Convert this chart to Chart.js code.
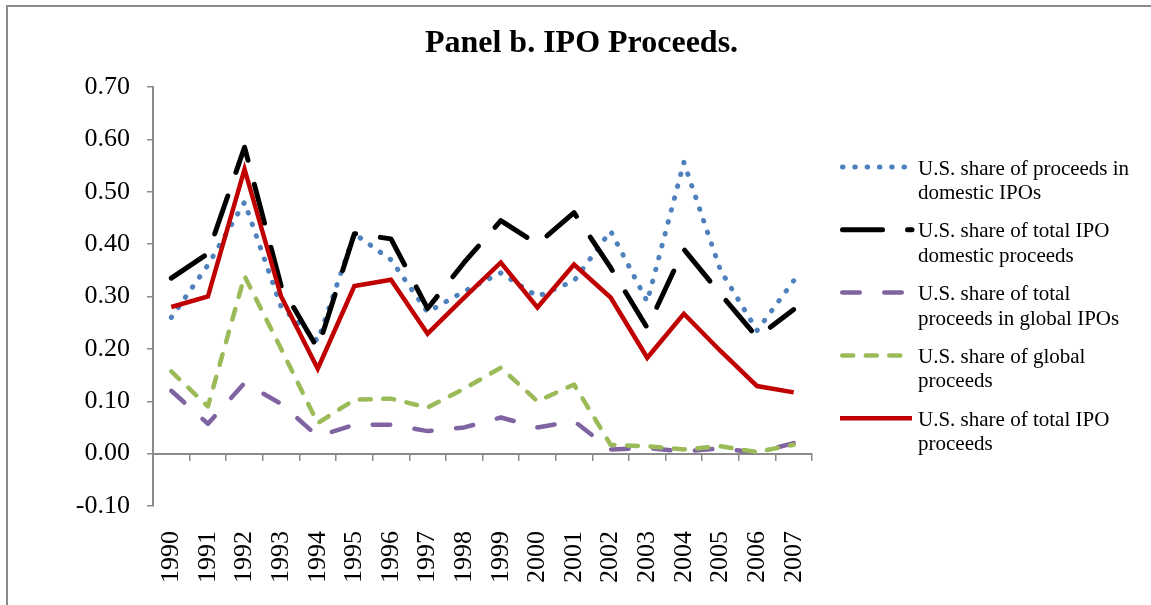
<!DOCTYPE html>
<html><head><meta charset="utf-8">
<script src="https://cdn.jsdelivr.net/npm/chart.js@4"></script>
<style>
html,body{margin:0;padding:0;background:#fff;}
#wrap{position:relative;width:1151px;height:605px;}
#frame{position:absolute;left:6px;top:5px;right:0;bottom:0;border-top:2px solid #8a8a8a;border-left:2px solid #8a8a8a;pointer-events:none;}
</style></head><body>
<div id="wrap"><canvas id="c" width="1151" height="605"></canvas><div id="frame"></div></div>
<script>
const years = ['1990','1991','1992','1993','1994','1995','1996','1997','1998','1999','2000','2001','2002','2003','2004','2005','2006','2007'];
const shareDomesticIPOs = [0.26,0.36,0.48,0.28,0.215,0.42,0.37,0.27,0.31,0.345,0.30,0.33,0.425,0.29,0.556,0.35,0.235,0.33];
const shareTotalDomestic = [0.335,0.382,0.585,0.32,0.20,0.42,0.41,0.277,0.365,0.445,0.40,0.46,0.355,0.24,0.39,0.305,0.222,0.275];
const shareGlobalIPOs = [0.12,0.057,0.135,0.095,0.033,0.055,0.055,0.043,0.05,0.069,0.05,0.062,0.008,0.011,0.004,0.01,0.002,0.02];
const shareGlobalProceeds = [0.157,0.09,0.339,0.20,0.058,0.103,0.105,0.088,0.124,0.164,0.10,0.132,0.017,0.014,0.008,0.014,0.003,0.017];
const shareTotalProceeds = [0.28,0.30,0.543,0.30,0.162,0.32,0.332,0.229,0.298,0.365,0.279,0.361,0.298,0.183,0.267,0.196,0.129,0.117];
const seriesNames = ['U.S. share of proceeds in domestic IPOs','U.S. share of total IPO domestic proceeds','U.S. share of total proceeds in global IPOs','U.S. share of global proceeds','U.S. share of total IPO proceeds'];
const legendLines = [
  ['U.S. share of proceeds in','domestic IPOs'],
  ['U.S. share of total IPO','domestic proceeds'],
  ['U.S. share of total','proceeds in global IPOs'],
  ['U.S. share of global','proceeds'],
  ['U.S. share of total IPO','proceeds']
];
const yTicks = [-0.1,0,0.1,0.2,0.3,0.4,0.5,0.6,0.7];
const titleText = 'Panel b. IPO Proceeds.';

const SERIF = "'Liberation Serif','Times New Roman',serif";
const AXIS = '#8a8a8a';

const sideLegend = {
  id: 'sideLegend',
  afterDraw(chart) {
    const ctx = chart.ctx;
    const x0 = 840, x1 = 912, tx = 918, y0 = 167, step = 62.8;
    chart.data.datasets.forEach((ds, i) => {
      const y = y0 + i * step;
      ctx.save();
      ctx.strokeStyle = ds.borderColor;
      ctx.lineWidth = ds.borderWidth;
      ctx.lineCap = ds.borderCapStyle || 'butt';
      ctx.setLineDash(ds.borderDash || []);
      ctx.beginPath();
      ctx.moveTo(x0 + (ds.borderCapStyle === 'round' ? ds.borderWidth/2 : 0), y);
      ctx.lineTo(x1, y);
      ctx.stroke();
      ctx.restore();
      ctx.save();
      ctx.fillStyle = '#000';
      ctx.font = '21px ' + SERIF;
      ctx.textBaseline = 'middle';
      ctx.textAlign = 'left';
      legendLines[i].forEach((t, j) => ctx.fillText(t, tx, y + 2 + j * 24.5));
      ctx.restore();
    });
  }
};

const colors = ['#4F81BD','#000000','#8064A2','#9BBB59','#C00000'];
const dataSets = [shareDomesticIPOs, shareTotalDomestic, shareGlobalIPOs, shareGlobalProceeds, shareTotalProceeds];
const styles = [
  {borderWidth:5, borderDash:[0.5,11.8], borderCapStyle:'round', borderJoinStyle:'round', order:5},
  {borderWidth:5, borderDash:[40,25], borderCapStyle:'round', borderJoinStyle:'round', order:4},
  {borderWidth:4.5, borderDash:[17.5,24.5], borderCapStyle:'round', borderJoinStyle:'round', order:3},
  {borderWidth:4.5, borderDash:[11,12.5], borderCapStyle:'round', borderJoinStyle:'round', order:2},
  {borderWidth:4.5, borderDash:[], borderCapStyle:'butt', borderJoinStyle:'miter', order:1}
];

new Chart(document.getElementById('c'), {
  type: 'line',
  data: {
    labels: years,
    datasets: dataSets.map((d, i) => Object.assign({
      label: seriesNames[i], data: d, borderColor: colors[i], backgroundColor: colors[i],
      pointRadius: 0, fill: false, tension: 0, xAxisID: 'x', yAxisID: 'y'
    }, styles[i]))
  },
  options: {
    responsive: false, animation: false,
    layout: { padding: { left: 12, right: 0, top: 0, bottom: 0 } },
    plugins: {
      legend: { display: false },
      tooltip: { enabled: false },
      title: { display: true, text: titleText, color: '#000',
        font: { family: SERIF, size: 32, weight: 'bold' }, padding: { top: 25, bottom: 23.6 } }
    },
    scales: {
      x: {
        type: 'category', position: { y: 0 }, offset: true,
        grid: { offset: true, drawOnChartArea: false, drawTicks: true, tickLength: 6, color: AXIS, lineWidth: 1.5 },
        border: { color: AXIS, width: 2 },
        ticks: { display: false }
      },
      x2: {
        type: 'category', position: 'bottom', offset: true,
        grid: { display: false, drawTicks: false },
        border: { display: false },
        ticks: { autoSkip: false, maxRotation: 90, minRotation: 90, padding: 25, color: '#000', font: { family: SERIF, size: 26 } },
        afterFit(s) { s.height = 99; }
      },
      y: {
        min: -0.1, max: 0.7,
        afterBuildTicks(s) { s.ticks = yTicks.map(v => ({ value: v })); },
        grid: { drawOnChartArea: false, drawTicks: true, tickLength: 6, color: AXIS, lineWidth: 1.5 },
        border: { color: AXIS, width: 2 },
        ticks: { padding: 17, color: '#000', font: { family: SERIF, size: 26 }, callback: v => Number(v).toFixed(2) },
        afterFit(s) { s.width = 141; }
      },
      legendSpace: {
        type: 'linear', position: 'right', display: true,
        grid: { display: false, drawTicks: false },
        border: { display: false },
        ticks: { display: false },
        afterFit(s) { s.width = 339; }
      }
    }
  },
  plugins: [sideLegend]
});
</script>
</body></html>
